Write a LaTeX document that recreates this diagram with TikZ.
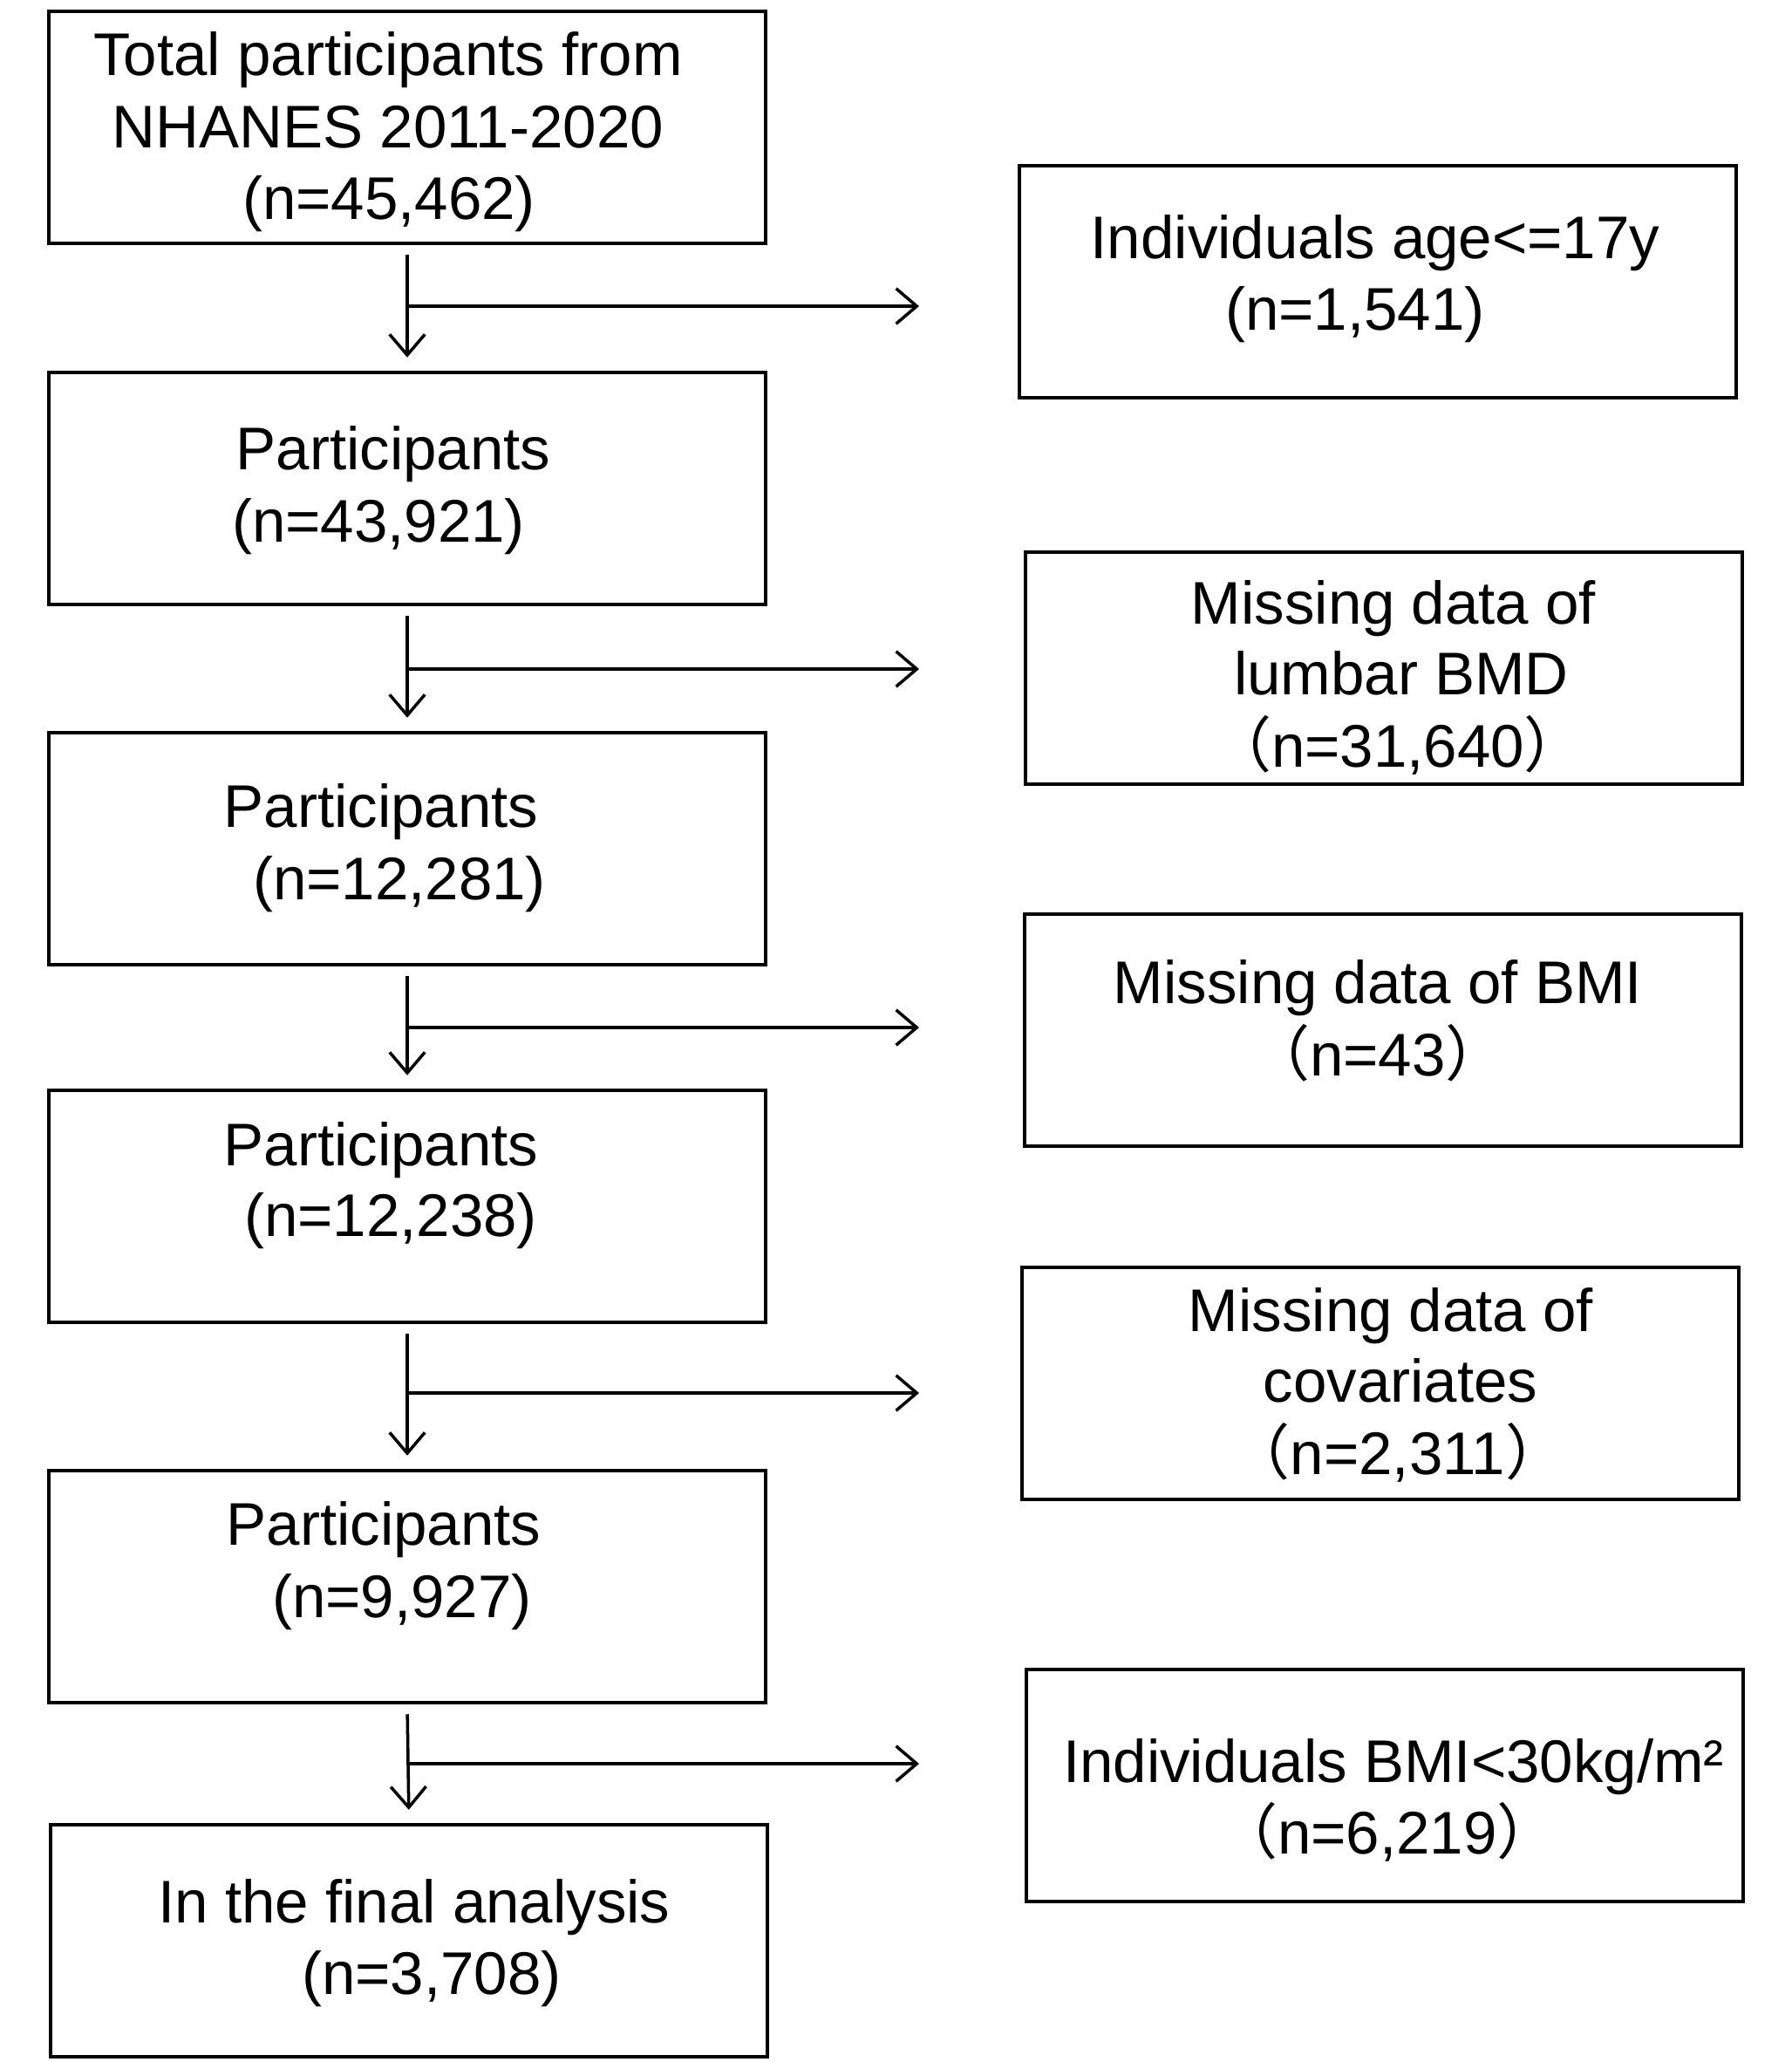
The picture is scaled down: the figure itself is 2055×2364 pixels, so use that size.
\documentclass[tikz,border=0pt]{standalone}
\usepackage{fontspec}
\setmainfont{Liberation Sans}
\newfontfamily\cjk{Noto Sans CJK SC}
\usetikzlibrary{arrows.meta}
\newcommand{\lp}{{\cjk （}}
\newcommand{\rp}{{\cjk ）}}
\begin{document}
\begin{tikzpicture}[x=0.02cm,y=-0.02cm,
  box/.style={draw, line width=2.3pt, minimum width=16.46cm, minimum height=5.33cm, inner sep=0pt},
  txt/.style={anchor=base, inner sep=0pt, font=\fontsize{39.3}{47}\selectfont},
  arr/.style={line width=2pt, -{Straight Barb[length=13.5pt,width=23pt,line width=2pt]}},
  vline/.style={arr, shorten <=0.22cm, shorten >=0.3cm}]
\fill[white] (0,0) rectangle (2055,2364);
\useasboundingbox (0,0) rectangle (2055,2364);

% left column boxes
\node[box] (B1) at (467,146) {};
\node[box] (B2) at (467,560) {};
\node[box] (B3) at (467,973) {};
\node[box] (B4) at (467,1383) {};
\node[box] (B5) at (467,1819) {};
\node[box] (B6) at (469,2225) {};

% right column boxes
\node[box] (R1) at (1580,323) {};
\node[box] (R2) at (1587,766) {};
\node[box] (R3) at (1586,1181) {};
\node[box] (R4) at (1583,1586) {};
\node[box] (R5) at (1588,2047) {};

% texts left
\node[txt] (t11) at (445,86) {Total participants from};
\node[txt] (t12) at (445,169) {NHANES 2011-2020};
\node[txt] (t13) at (446,251) {(n=45,462)};
\node[txt] (t21) at (451,538) {Participants};
\node[txt] (t22) at (434,621) {(n=43,921)};
\node[txt] (t31) at (437,948) {Participants};
\node[txt] (t32) at (458,1031) {(n=12,281)};
\node[txt] (t41) at (437,1336) {Participants};
\node[txt] (t42) at (448,1417) {(n=12,238)};
\node[txt] (t51) at (440,1771) {Participants};
\node[txt] (t52) at (461,1854) {(n=9,927)};
\node[txt] (t61) at (475,2204) {In the final analysis};
\node[txt] (t62) at (495,2286) {(n=3,708)};

% texts right
\node[txt] (r11) at (1577,296) {Individuals age<=17y};
\node[txt] (r12) at (1554,378) {(n=1,541)};
\node[txt] (r21) at (1598,715) {Missing data of};
\node[txt] (r22) at (1607,796) {lumbar BMD};
\node[txt] (r23) at (1603,879) {\lp n=31,640\rp};
\node[txt] (r31) at (1580,1150) {Missing data of BMI};
\node[txt] (r32) at (1580,1233) {\lp n=43\rp};
\node[txt] (r41) at (1595,1526) {Missing data of};
\node[txt] (r42) at (1606,1607) {covariates};
\node[txt] (r43) at (1603,1690) {\lp n=2,311\rp};
\node[txt] (r51) at (1598,2043) {Individuals BMI<30kg/m²};
\node[txt] (r52) at (1591,2125) {\lp n=6,219\rp};

% branch points and arrow ends
\coordinate (h1) at (466,351);  \coordinate (e1) at (1054,351);
\coordinate (h2) at (466,767);  \coordinate (e2) at (1054,767);
\coordinate (h3) at (466,1178); \coordinate (e3) at (1054,1178);
\coordinate (h4) at (466,1597); \coordinate (e4) at (1054,1597);
\coordinate (h5) at (466,2022); \coordinate (e5) at (1054,2022);

% vertical arrows
\draw[vline] (B1.south) -- (B2.north);
\draw[vline] (B2.south) -- (B3.north);
\draw[vline] (B3.south) -- (B4.north);
\draw[vline] (B4.south) -- (B5.north);
\draw[vline] (B5.south) -- (B6.north);

% horizontal arrows
\draw[arr] (h1) -- (e1);
\draw[arr] (h2) -- (e2);
\draw[arr] (h3) -- (e3);
\draw[arr] (h4) -- (e4);
\draw[arr] (h5) -- (e5);
\end{tikzpicture}
\end{document}
